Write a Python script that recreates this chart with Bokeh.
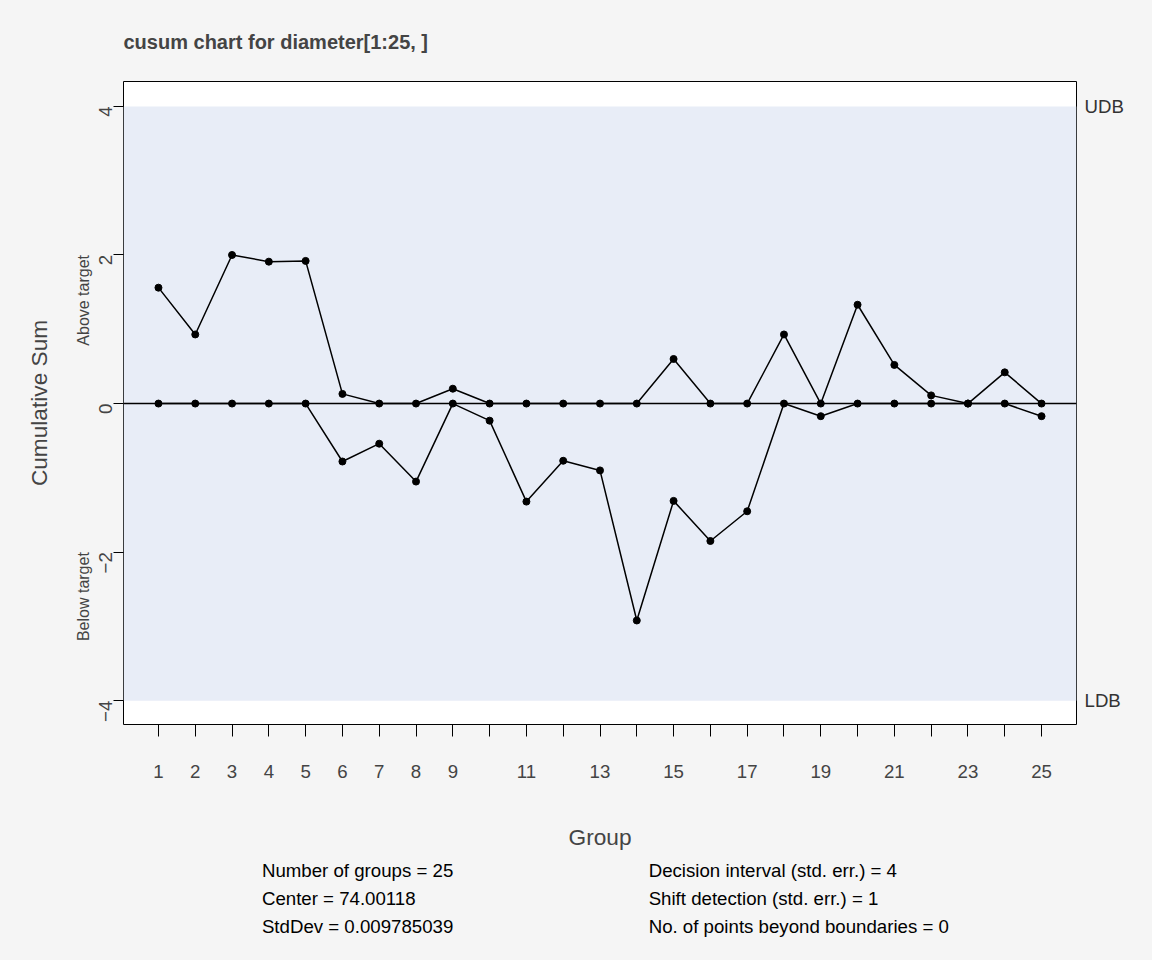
from math import pi
from bokeh.plotting import figure
from bokeh.models import (BoxAnnotation, Span, LinearAxis, FixedTicker, Range1d, Title)
from bokeh.layouts import column
from bokeh.core.properties import value
from bokeh.embed import file_html
from bokeh.resources import INLINE

groups = list(range(1, 26))
upper = [1.56, 0.93, 2.0, 1.91, 1.92, 0.13, 0, 0, 0.2, 0, 0, 0, 0, 0, 0.6,
         0, 0, 0.93, 0, 1.33, 0.52, 0.11, 0, 0.42, 0]
lower = [0, 0, 0, 0, 0, -0.78, -0.54, -1.05, 0, -0.23, -1.32, -0.77, -0.9, -2.92, -1.31,
         -1.85, -1.45, 0, -0.17, 0, 0, 0, 0, 0, -0.17]
x_labels = {g: (str(g) if (g < 10 or g % 2 == 1) else "") for g in groups}
left_stats = ["Number of groups = 25", "Center = 74.00118", "StdDev = 0.009785039"]
right_stats = ["Decision interval (std. err.) = 4", "Shift detection (std. err.) = 1",
               "No. of points beyond boundaries = 0"]

FONT = "Liberation Sans"
BG = "#F5F5F5"

p = figure(width=1136, height=852, output_backend="svg", toolbar_location=None,
           x_range=Range1d(0.05, 25.95), y_range=Range1d(-4.32, 4.335),
           min_border_left=123, min_border_right=60, min_border_top=20, min_border_bottom=123)
p.background_fill_color = "white"
p.border_fill_color = BG
p.outline_line_color = "black"
p.grid.visible = False

t = Title(text="cusum chart for diameter[1:25, ]", text_font=FONT, text_font_size="15pt",
          text_font_style="bold", standoff=57)
p.add_layout(t, "above")

p.add_layout(BoxAnnotation(bottom=-4, top=4, fill_color="#E8EDF7", fill_alpha=1, line_color=None, level="underlay"))
p.add_layout(Span(location=0, dimension="width", line_color="black", line_width=1.5))

p.line(groups, upper, line_color="black", line_width=1.5)
p.line(groups, lower, line_color="black", line_width=1.5)
p.scatter(groups, upper, size=7, color="black")
p.scatter(groups, lower, size=7, color="black")

xa = p.xaxis[0]
xa.ticker = FixedTicker(ticks=groups)
xa.major_label_overrides = x_labels
xa.axis_label = "Group"
xa.axis_line_color = None
xa.major_tick_in = 0
xa.major_tick_out = 12
xa.minor_tick_line_color = None
xa.major_label_text_font_size = "14pt"
xa.major_label_text_font = FONT
xa.major_label_standoff = 28
xa.axis_label_text_font = FONT
xa.axis_label_text_font_size = "17pt"
xa.axis_label_text_font_style = "normal"
xa.axis_label_standoff = 43

ya = p.yaxis[0]
ya.ticker = FixedTicker(ticks=[-4, -2, 0, 2, 4])
ya.major_label_orientation = pi / 2
ya.major_label_text_font_size = "14pt"
ya.major_label_text_font = FONT
ya.axis_line_color = None
ya.major_tick_in = 0
ya.major_tick_out = 10
ya.minor_tick_line_color = None
ya.major_label_standoff = 8

ya2 = LinearAxis(ticker=FixedTicker(ticks=[2, -2]),
                 major_label_overrides={2: "Above target", -2: "Below target"},
                 major_label_orientation=pi / 2, major_label_text_font_size="12pt",
                 major_label_text_font=FONT, axis_line_color=None, major_tick_line_color=None,
                 minor_tick_line_color=None, major_label_standoff=0,
                 axis_label="Cumulative Sum", axis_label_text_font=FONT,
                 axis_label_text_font_size="17pt", axis_label_text_font_style="normal",
                 axis_label_standoff=12)
p.add_layout(ya2, "left")

ra = LinearAxis(ticker=FixedTicker(ticks=[4, -4]), major_label_overrides={4: "UDB", -4: "LDB"},
                major_label_text_font_size="14pt", major_label_text_font=FONT,
                major_label_text_color="#333333", axis_line_color=None,
                major_tick_line_color=None, minor_tick_line_color=None, major_label_standoff=2)
p.add_layout(ra, "right")

s = figure(width=1136, height=92, output_backend="svg", toolbar_location=None,
           x_range=Range1d(0, 1136), y_range=Range1d(92, 0),
           x_axis_location=None, y_axis_location=None, min_border=0)
s.grid.visible = False
s.outline_line_color = None
s.background_fill_color = BG
s.border_fill_color = BG
s.text(x=[165] * 3, y=[18, 46, 74], text=left_stats, text_font=value(FONT),
       text_font_size="14pt", text_baseline="middle")
s.text(x=[626] * 3, y=[18, 46, 74], text=right_stats, text_font=value(FONT),
       text_font_size="14pt", text_baseline="middle")

layout = column(p, s, spacing=0)
html = file_html(layout, INLINE)
html = html.replace("<body>", '<body style="background:%s">' % BG)
open("out.html", "w").write(html)
